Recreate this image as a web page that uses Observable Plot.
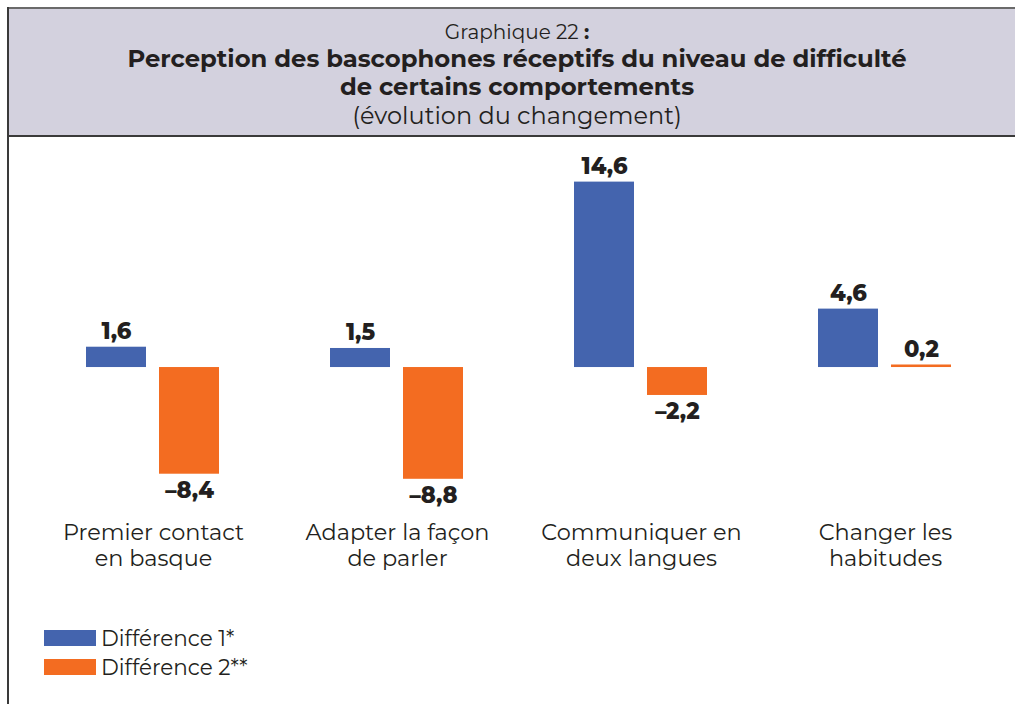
<!DOCTYPE html>
<html>
<head>
<meta charset="utf-8">
<script src="https://cdn.jsdelivr.net/npm/d3@7"></script>
<script src="https://cdn.jsdelivr.net/npm/@observablehq/plot@0.6"></script>
<style>
  html, body { margin: 0; padding: 0; background: #fff; }
  body { width: 1015px; height: 704px; position: relative; overflow: hidden; font-family: "Montserrat", "Open Sans", sans-serif; color: #231f20; }
  #frame { position: absolute; left: 7px; top: 7px; width: 1010px; height: 700px; border-left: 2px solid #3a3a3a; }
  #header { position: absolute; left: 7px; top: 7px; width: 1010px; height: 126px; background: #d3d1de; border-top: 2px solid #6a6a6a; border-left: 2px solid #3a3a3a; border-bottom: 2px solid #3a3a3a; box-sizing: content-box; }
  .hl { position: absolute; left: 0; width: 1016px; text-align: center; white-space: nowrap; }
  #chart { position: absolute; left: 0; top: 135px; }
  .leg { position: absolute; left: 44px; display: flex; align-items: center; font-size: 21.5px; }
  .sw { width: 52px; height: 16px; margin-right: 5px; }
</style>
</head>
<body>
<div id="header">
  <div class="hl" id="l0" style="top:11px;font-size:20px;"></div>
  <div class="hl" id="l1" style="top:34px;font-size:24.3px;font-weight:bold;"></div>
  <div class="hl" id="l2" style="top:62px;font-size:24.3px;font-weight:bold;"></div>
  <div class="hl" id="l3" style="top:92px;font-size:24px;"></div>
</div>
<div id="frame"></div>
<div id="chart"></div>
<div class="leg" id="leg1" style="top:625px;"></div>
<div class="leg" id="leg2" style="top:654px;"></div>
<script>
// ---- data ----
const categories = ["Premier contact\nen basque", "Adapter la façon\nde parler", "Communiquer en\ndeux langues", "Changer les\nhabitudes"];
const seriesNames = ["Différence 1*", "Différence 2**"];
const diff1 = [1.6, 1.5, 14.6, 4.6];
const diff2 = [-8.4, -8.8, -2.2, 0.2];
const seriesColors = ["#4464ae", "#f36c21"];
const headerTitle = "Graphique 22";
const headerLines = ["Perception des bascophones réceptifs du niveau de difficulté", "de certains comportements", "(évolution du changement)"];

document.getElementById("l0").innerHTML = headerTitle + " <b>:</b>";
headerLines.forEach((t, i) => { document.getElementById("l" + (i + 1)).textContent = t; });

const rows = [];
categories.forEach((c, i) => {
  rows.push({cat: c, series: seriesNames[0], value: diff1[i]});
  rows.push({cat: c, series: seriesNames[1], value: diff2[i]});
});
const fmt = v => v.toFixed(1).replace(".", ",").replace("-", "–");

const chart = Plot.plot({
  width: 1015,
  height: 465,
  marginLeft: 30,
  marginRight: 8,
  marginTop: 0,
  marginBottom: 100,
  style: {fontFamily: "Montserrat, 'Open Sans', sans-serif", color: "#231f20", background: "transparent"},
  fx: {domain: categories, padding: 0, label: null},
  x: {domain: seriesNames, paddingInner: 0.178, paddingOuter: 0.76, axis: null},
  y: {domain: [-10.47, 18.27], axis: null},
  color: {domain: seriesNames, range: seriesColors},
  marks: [
    Plot.barY(rows, {fx: "cat", x: "series", y: "value", fill: "series"}),
    Plot.text(rows.filter(d => d.value >= 0), {fx: "cat", x: "series", y: "value", text: d => fmt(d.value), lineAnchor: "bottom", dy: -8, fontSize: 22.5, fontWeight: 800, fill: "#231f20"}),
    Plot.text(rows.filter(d => d.value < 0), {fx: "cat", x: "series", y: "value", text: d => fmt(d.value), lineAnchor: "top", dy: 8, fontSize: 22.5, fontWeight: 800, fill: "#231f20"}),
    Plot.axisFx({anchor: "bottom", tickSize: 0, tickPadding: 21, fontSize: 22.4, lineHeight: 1.17, label: null})
  ]
});
document.getElementById("chart").appendChild(chart);

["leg1", "leg2"].forEach((id, i) => {
  const el = document.getElementById(id);
  const sw = document.createElement("div");
  sw.className = "sw"; sw.style.background = seriesColors[i];
  const tx = document.createElement("span");
  tx.textContent = seriesNames[i];
  el.appendChild(sw); el.appendChild(tx);
});
</script>
</body>
</html>
